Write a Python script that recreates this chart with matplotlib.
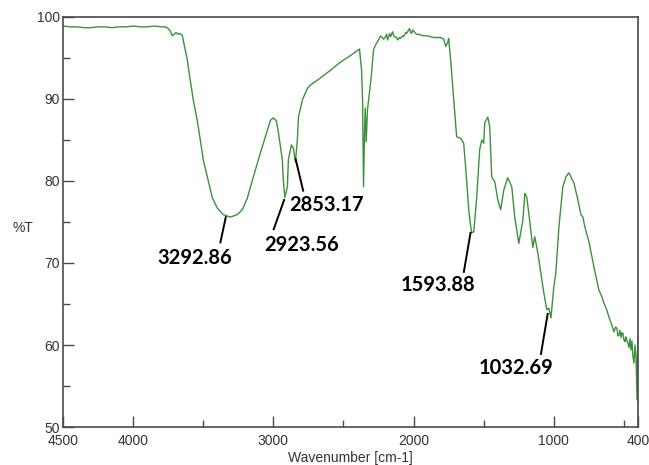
import matplotlib
matplotlib.use("Agg")
import matplotlib.pyplot as plt
from matplotlib.ticker import MultipleLocator, FixedLocator

# FTIR spectrum, wavenumber [cm-1] vs %T
wavenumber = [
    4500, 4450, 4400, 4350, 4300, 4250, 4200, 4150, 4100, 4050,
    4000, 3950, 3900, 3850, 3800, 3771, 3750, 3735, 3721, 3707,
    3693, 3680, 3671, 3660, 3650, 3643, 3614, 3593, 3571, 3543,
    3521, 3500, 3471, 3436, 3400, 3357, 3307, 3257, 3221, 3186,
    3143, 3093, 3043, 3021, 3000, 2990, 2979, 2964, 2936, 2929,
    2918, 2900, 2893, 2871, 2857, 2843, 2829, 2821, 2793, 2757,
    2736, 2686, 2593, 2521, 2450, 2386, 2371, 2364, 2357, 2350,
    2345, 2338, 2329, 2302, 2286, 2271, 2250, 2236, 2214, 2200,
    2193, 2186, 2171, 2164, 2150, 2143, 2136, 2121, 2114, 2100,
    2093, 2079, 2071, 2057, 2050, 2036, 2029, 2021, 2014, 2007,
    2000, 1986, 1979, 1964, 1950, 1925, 1900, 1857, 1807, 1785,
    1771, 1757, 1750, 1736, 1714, 1693, 1664, 1643, 1629, 1607,
    1594, 1586, 1571, 1550, 1529, 1514, 1500, 1493, 1471, 1457,
    1443, 1421, 1400, 1379, 1357, 1329, 1300, 1279, 1250, 1221,
    1207, 1193, 1179, 1150, 1136, 1114, 1093, 1071, 1050, 1036,
    1021, 1000, 986, 964, 936, 914, 893, 880, 871, 857,
    829, 807, 793, 779, 750, 714, 679, 660, 643, 625,
    607, 590, 571, 560, 550, 543, 536, 529, 521, 514,
    507, 500, 493, 486, 478, 471, 464, 457, 450, 443,
    436, 429, 421, 414, 407, 403, 400,
]
transmittance = [
    98.9, 98.8, 98.8, 98.7, 98.7, 98.8, 98.8, 98.7, 98.8, 98.8,
    98.9, 98.8, 98.8, 98.9, 98.8, 98.8, 98.6, 98.3, 97.7, 97.9,
    98.1, 97.9, 98.0, 97.9, 97.8, 97.2, 94.8, 92.3, 89.9, 87.4,
    85.0, 82.6, 80.5, 78.0, 76.7, 75.9, 75.6, 75.9, 76.5, 77.9,
    80.5, 83.4, 86.2, 87.4, 87.7, 87.5, 87.4, 85.9, 82.6, 80.1,
    78.0, 79.3, 82.6, 84.4, 84.0, 82.3, 85.0, 87.8, 89.9, 91.3,
    91.7, 92.3, 93.5, 94.5, 95.3, 96.1, 93.5, 89.9, 79.3, 86.0,
    88.9, 84.8, 88.7, 92.7, 96.0, 96.6, 97.2, 97.7, 97.3, 97.6,
    97.9, 97.2, 98.0, 97.6, 98.2, 97.8, 97.6, 97.5, 97.2, 97.5,
    97.4, 97.7, 97.6, 98.1, 98.0, 98.4, 98.6, 98.1, 98.0, 98.4,
    98.3, 98.0, 97.9, 97.9, 97.8, 97.7, 97.7, 97.5, 97.5, 97.3,
    96.4, 96.9, 97.4, 94.8, 89.9, 85.4, 85.2, 84.6, 81.7, 76.5,
    74.6, 73.7, 73.8, 78.0, 83.8, 85.0, 84.6, 87.1, 87.8, 86.6,
    80.5, 79.9, 77.7, 76.5, 78.9, 80.4, 79.3, 75.6, 72.4, 75.2,
    78.5, 78.0, 76.1, 71.9, 73.2, 71.2, 68.8, 66.3, 64.3, 64.5,
    63.3, 67.1, 68.8, 74.4, 79.3, 80.5, 81.0, 80.6, 80.2, 79.8,
    77.7, 75.9, 75.6, 74.4, 72.6, 69.5, 66.7, 66.0, 65.1, 64.4,
    63.4, 62.6, 61.6, 62.2, 62.0, 61.1, 61.2, 61.8, 60.9, 61.5,
    61.4, 60.6, 60.4, 61.0, 60.5, 60.2, 59.7, 60.8, 59.4, 60.5,
    58.6, 57.8, 60.0, 58.5, 53.3, 59.0, 61.0,
]

# labelled absorption bands: text, point on the trace, end of leader line, text centre
peak_labels = ["3292.86", "2923.56", "2853.17", "1593.88", "1032.69"]
leader_start = [(3338, 75.7), (2921, 77.8), (2843, 82.8), (1593, 73.8), (1043, 63.9)]
leader_end = [(3379, 72.4), (3000, 74.0), (2786, 78.7), (1643, 68.8), (1093, 58.8)]
text_center = [(3564, 70.6), (2800, 72.2), (2621, 77.1), (1829, 67.3), (1271, 57.2)]

x_ticks = [4500, 4000, 3000, 2000, 1000, 400]
x_minor = [3500, 2500, 1500, 500]

fig = plt.figure(figsize=(6.49, 4.65), dpi=100)
ax = fig.add_axes([63 / 649, 1 - 427 / 465, 575 / 649, 410 / 465])

ax.plot(wavenumber, transmittance, color="#3c913c", linewidth=1.0)

for text, p0, p1, pc in zip(peak_labels, leader_start, leader_end, text_center):
    ax.plot([p0[0], p1[0]], [p0[1], p1[1]], color="black", linewidth=1.4,
            solid_capstyle="butt")
    ax.text(pc[0], pc[1], text, ha="center", va="center", fontsize=14.5,
            fontweight="bold", family="Lato", color="black")

ax.set_xlim(4500, 400)
ax.set_ylim(50, 100)

ax.xaxis.set_major_locator(FixedLocator(x_ticks))
ax.xaxis.set_minor_locator(FixedLocator(x_minor))
ax.yaxis.set_major_locator(MultipleLocator(10))
ax.yaxis.set_minor_locator(MultipleLocator(5))

tick_color = "#4a4a4a"
ax.tick_params(which="both", direction="in", top=False, right=False,
               color=tick_color, width=1.0)
ax.tick_params(which="major", length=8, labelsize=10, labelcolor="#333333")
ax.tick_params(which="minor", length=5)
ax.tick_params(axis="x", pad=5)
ax.tick_params(axis="y", pad=2)
for lbl in ax.get_xticklabels() + ax.get_yticklabels():
    lbl.set_family("Liberation Sans")

for side in ax.spines.values():
    side.set_color(tick_color)
    side.set_linewidth(1.2)

ax.set_xlabel("Wavenumber [cm-1]", fontsize=10, family="Liberation Sans",
              color="#333333", labelpad=2)
ax.set_ylabel("%T", fontsize=10, family="Liberation Sans", color="#333333",
              rotation=0, va="center", ha="center")
ax.yaxis.set_label_coords(-0.07, 0.485)

fig.savefig("out.png", dpi=100)
